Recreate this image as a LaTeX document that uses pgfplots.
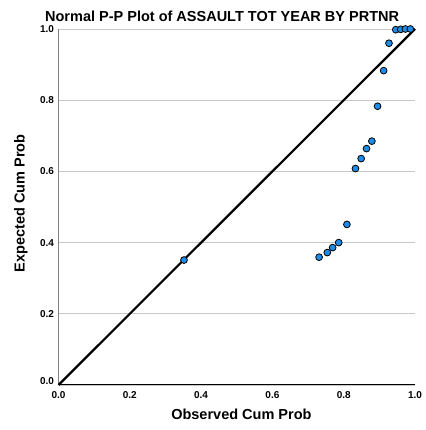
\documentclass[border=0pt]{standalone}
\usepackage{fontspec}
\setmainfont{Liberation Sans}
\usepackage{pgfplots}
\pgfplotsset{compat=1.18}

\definecolor{ptblue}{RGB}{30,140,230}
\definecolor{gridgray}{RGB}{200,200,200}
\definecolor{axgray}{RGB}{130,130,130}

% bold tick label text
\newcommand{\tl}[1]{\mbox{\fontsize{10}{12}\selectfont\bfseries #1}}

\begin{document}
\begin{tikzpicture}
\begin{axis}[
  at={(0,0)}, anchor=south west,
  scale only axis,
  width=356.5pt, height=356pt,
  xmin=0, xmax=1, ymin=0, ymax=1,
  clip=false,
  axis x line*=bottom,
  axis y line*=left,
  x axis line style={black, line width=1pt, -},
  y axis line style={axgray, line width=1pt, -},
  xtick={0,0.2,0.4,0.6,0.8,1.0},
  xticklabels={\tl{0.0},\tl{0.2},\tl{0.4},\tl{0.6},\tl{0.8},\tl{1.0}},
  ytick={0,0.2,0.4,0.6,0.8,1.0},
  yticklabels={\raisebox{8pt}{\tl{0.0}},\tl{0.2},\tl{0.4},\tl{0.6},\tl{0.8},\tl{1.0}},
  major tick length=0pt,
  ymajorgrids,
  major grid style={gridgray, line width=0.9pt},
  xticklabel style={yshift=-2.5pt},
  yticklabel style={xshift=-1pt},
  xlabel={Observed Cum Prob},
  ylabel={Expected Cum Prob},
  label style={font=\fontsize{14.5}{16}\selectfont\bfseries},
  xlabel style={at={(rel axis cs:0.513,0)}, anchor=center, yshift=-29pt},
  ylabel style={at={(rel axis cs:0,0.51)}, anchor=center, yshift=37.5pt},
]
% reference diagonal
\addplot[black, line width=2.2pt, no marks] coordinates {(0,0) (1,1)};
% observed vs expected cumulative probabilities
\addplot[only marks, mark=*, mark size=3.4pt,
  mark options={fill=ptblue, draw=black, line width=0.8pt}] coordinates {
  (0.352,0.351)
  (0.731,0.359)
  (0.754,0.372)
  (0.769,0.386)
  (0.786,0.400)
  (0.809,0.451)
  (0.833,0.608)
  (0.849,0.636)
  (0.864,0.664)
  (0.879,0.685)
  (0.895,0.783)
  (0.912,0.883)
  (0.927,0.960)
  (0.946,0.998)
  (0.960,0.999)
  (0.973,1.000)
  (0.987,1.000)
};
\node[font=\fontsize{14.5}{16}\selectfont\bfseries, anchor=base]
  at (rel axis cs:0.459,1) [yshift=7pt] {Normal P-P Plot of ASSAULT TOT YEAR BY PRTNR};
\end{axis}
\path[use as bounding box] (-58.5pt,-45pt) rectangle (366.5pt,385pt);
\end{tikzpicture}
\end{document}
